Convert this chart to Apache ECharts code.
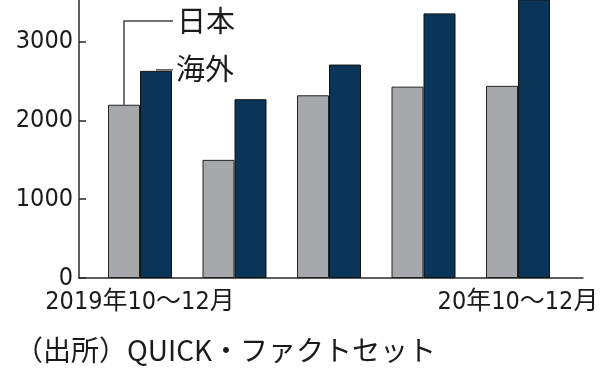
<!DOCTYPE html>
<html><head><meta charset="utf-8">
<script src="https://cdn.jsdelivr.net/npm/echarts@6/dist/echarts.min.js"></script>
<style>html,body{margin:0;padding:0;background:#fff}#c{width:600px;height:375px}</style>
</head><body><div id="c"></div>
<script>
const categories = ['2019年10～12月', '', '', '', '20年10～12月'];
const japan = [2200, 1500, 2320, 2430, 2440];
const overseas = [2630, 2270, 2710, 3360, 3700];
const yTicks = [0, 1000, 2000, 3000];
const seriesNames = ['日本', '海外'];
const sourceText = '（出所）QUICK・ファクトセット';

const numFont = '"DejaVu Sans Condensed","Noto Sans CJK JP",sans-serif';
const jpFont = '"Noto Sans CJK JP",sans-serif';
const YMAX = 3530;
const BW = 32;
const lineColor = '#2a2a2a';

const chart = echarts.init(document.getElementById('c'));
chart.setOption({
  animation: false,
  backgroundColor: '#fff',
  grid: [
    { left: 92.75, right: 34.75, top: 0, bottom: 97, outerBoundsMode: 'none', containLabel: false },
    { left: 79, right: 17, top: 0, bottom: 97, outerBoundsMode: 'none', containLabel: false }
  ],
  xAxis: [
    { type: 'category', gridIndex: 0, data: categories,
      axisLine: { show: false }, axisTick: { show: false },
      axisLabel: { interval: 0, margin: 10, fontSize: 25, fontFamily: numFont, color: '#1a1a1a', lineHeight: 28, hideOverlap: false } },
    { type: 'value', gridIndex: 1, min: 0, max: 1,
      axisLine: { show: true, lineStyle: { color: lineColor, width: 1.5 } },
      axisTick: { show: false }, axisLabel: { show: false }, splitLine: { show: false } }
  ],
  yAxis: [
    { type: 'value', gridIndex: 0, min: 0, max: YMAX, show: false, splitLine: { show: false } },
    { type: 'value', gridIndex: 1, min: 0, max: YMAX, interval: 1000,
      axisLine: { show: true, lineStyle: { color: lineColor, width: 1.5 } },
      axisTick: { show: true, inside: true, length: 7, customValues: yTicks, lineStyle: { color: lineColor, width: 1.5 } },
      axisLabel: { customValues: yTicks, margin: 6, fontSize: 25, fontFamily: numFont, color: '#1a1a1a',
        formatter: function (v) { return String(v); } },
      splitLine: { show: false } }
  ],
  series: [
    { name: seriesNames[0], type: 'bar', xAxisIndex: 0, yAxisIndex: 0, data: japan,
      barWidth: BW, barGap: '0%',
      itemStyle: { color: '#a7a8ac', borderColor: '#222', borderWidth: 1 } },
    { name: seriesNames[1], type: 'bar', xAxisIndex: 0, yAxisIndex: 0, data: overseas,
      barWidth: BW, barGap: '0%',
      itemStyle: { color: '#0b3558', borderColor: '#111', borderWidth: 1 } }
  ]
});

const pJ = chart.convertToPixel({ xAxisIndex: 0, yAxisIndex: 0 }, [0, japan[0]]);
const pO = chart.convertToPixel({ xAxisIndex: 0, yAxisIndex: 0 }, [0, overseas[0]]);
const cx = pJ[0];
const gx = cx - BW / 2;
const nx = cx + BW / 2;
const endX = cx + BW + 1;
const yJ = 21;
chart.setOption({
  graphic: [
    { type: 'polyline', shape: { points: [[gx, pJ[1]], [gx, yJ], [endX, yJ]] },
      style: { stroke: '#444', lineWidth: 1.5, fill: null } },
    { type: 'text', x: endX + 4, y: yJ, style: { text: seriesNames[0], font: '29px ' + jpFont, fill: '#1a1a1a', verticalAlign: 'middle' } },
    { type: 'line', shape: { x1: nx, y1: pO[1] - 1, x2: endX, y2: pO[1] - 1 },
      style: { stroke: '#555', lineWidth: 1.5 } },
    { type: 'text', x: endX + 3, y: pO[1] - 2, style: { text: seriesNames[1], font: '29px ' + jpFont, fill: '#1a1a1a', verticalAlign: 'middle' } },
    { type: 'text', x: 15, y: 350, style: { text: sourceText, font: '28px ' + jpFont, fill: '#1a1a1a', verticalAlign: 'middle' } }
  ]
});
</script></body></html>
